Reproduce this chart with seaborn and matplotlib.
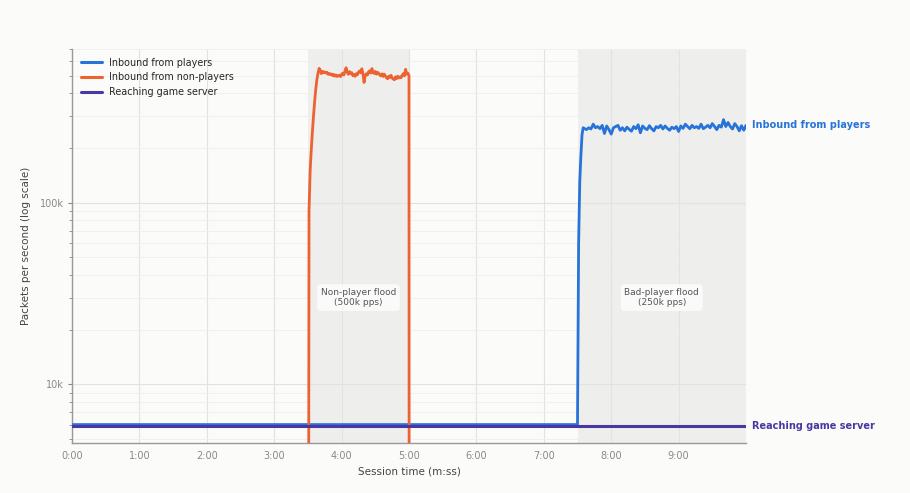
import numpy as np
import pandas as pd
import matplotlib
matplotlib.use("Agg")
import matplotlib.pyplot as plt
import matplotlib.transforms as mtransforms
from matplotlib.ticker import FuncFormatter, LogLocator, NullFormatter, FixedLocator
import seaborn as sns

# ---- data (packets per second, in thousands) ----
# inbound from players: steady baseline, then bad-player flood from 7:30
players_base_t = [0, 450]
players_base = [6.0, 6.0]
players_ramp_t = [451, 452, 453, 454, 455]
players_ramp = [60, 130, 180, 235, 258]
players_flood_start = 456   # sampled every 2 s up to 10:00
players_flood = [256, 252, 258, 254, 270, 258, 262, 255, 266, 240,
                 264, 252, 238, 258, 262, 266, 250, 258, 248, 260,
                 253, 247, 262, 255, 268, 242, 264, 256, 252, 265,
                 255, 248, 262, 258, 266, 254, 264, 256, 250, 260,
                 255, 262, 246, 264, 256, 270, 262, 255, 266, 258,
                 262, 256, 270, 255, 260, 266, 258, 272, 262, 252,
                 266, 260, 286, 262, 276, 262, 254, 272, 262, 248,
                 265, 250, 266]

# inbound from non-players: nothing, then flood between 3:30 and 5:00 (1 s samples)
nonplayers_start = 210
nonplayers = [0.001,
              90, 150, 195, 245, 300, 360, 420, 475, 515, 548,
              535, 512, 528, 518, 524, 516, 521, 508, 514, 505,
              510, 500, 507, 496, 503, 494, 499, 502, 493, 508,
              515, 503, 530, 552, 520, 508, 526, 512, 519, 499,
              506, 495, 512, 504, 522, 530, 518, 545, 512, 458,
              498, 511, 503, 524, 531, 516, 546, 520, 514, 527,
              509, 521, 515, 503, 498, 511, 494, 509, 497, 486,
              480, 496, 489, 502, 484, 478, 474, 492, 481, 496,
              485, 491, 487, 503, 512, 498, 541, 509, 515, 500,
              0.001]

# what actually reaches the game server
server_t = [0, 600]
server = [5.9, 5.9]

floods = [(210, 300, "Non-player flood\n(500k pps)"),
          (450, 600, "Bad-player flood\n(250k pps)")]

minute_ticks = [0, 60, 120, 180, 240, 300, 360, 420, 480, 540]

c_players = "#2673d9"
c_nonplayers = "#ec6231"
c_server = "#4b36a3"
bg = "#fbfbf9"

# ---- build series ----
players_t = np.concatenate([players_base_t, players_ramp_t,
                            players_flood_start + 2 * np.arange(len(players_flood))])
players_v = np.concatenate([players_base, players_ramp, players_flood]) * 1000
nonplayers_t = (nonplayers_start + np.arange(len(nonplayers))).astype(float)
nonplayers_t[-1] = 300.3
nonplayers_v = np.array(nonplayers) * 1000
server_v = np.array(server) * 1000

sns.set_theme(style="whitegrid")
plt.rcParams["font.family"] = ["DejaVu Sans"]

fig = plt.figure(figsize=(9.1, 4.93), dpi=100, facecolor=bg)
ax = fig.add_axes([72 / 910, 1 - 443 / 493, (746 - 72) / 910, (443 - 49) / 493])
ax.set_facecolor(bg)
ax.set_yscale("log")

for x0, x1, label in floods:
    ax.axvspan(x0, x1, color="#808080", alpha=0.1, lw=0, zorder=0)
    ax.text((x0 + x1) / 2, 30000, label, ha="center", va="center", fontsize=6.5,
            color="#555555", zorder=5,
            bbox=dict(boxstyle="round,pad=0.4", fc="white", ec="none", alpha=0.75))

sns.lineplot(x=players_t, y=players_v, ax=ax, color=c_players, lw=2.0,
             estimator=None, label="Inbound from players", zorder=3)
sns.lineplot(x=nonplayers_t, y=nonplayers_v, ax=ax, color=c_nonplayers, lw=2.0,
             estimator=None, label="Inbound from non-players", zorder=3)
sns.lineplot(x=server_t, y=server_v, ax=ax, color=c_server, lw=2.2,
             estimator=None, label="Reaching game server", zorder=4)

ax.set_xlim(0, 600)
ax.set_ylim(4750, 700000)

ax.xaxis.set_major_locator(FixedLocator(minute_ticks))
ax.xaxis.set_major_formatter(FuncFormatter(lambda v, p: f"{int(v // 60)}:{int(v % 60):02d}"))
ax.yaxis.set_major_locator(LogLocator(base=10))
ax.yaxis.set_minor_locator(LogLocator(base=10, subs=np.arange(2, 10)))
ax.yaxis.set_major_formatter(FuncFormatter(lambda v, p: f"{int(v / 1000)}k"))
ax.yaxis.set_minor_formatter(NullFormatter())

ax.grid(True, which="major", color="#e2e2e2", lw=0.8)
ax.grid(True, which="minor", axis="y", color="#efefef", lw=0.6)
ax.set_axisbelow(True)

for s in ["top", "right"]:
    ax.spines[s].set_visible(False)
for s in ["left", "bottom"]:
    ax.spines[s].set_color("#999999")
    ax.spines[s].set_linewidth(1.0)

ax.tick_params(axis="both", which="major", labelsize=7.0, colors="#888888",
               length=3, width=0.8, left=True, bottom=False, pad=3)
ax.tick_params(axis="y", which="minor", length=2, width=0.6, colors="#888888", left=True)

ax.set_xlabel("Session time (m:ss)", fontsize=7.5, color="#444444", labelpad=4)
ax.set_ylabel("Packets per second (log scale)", fontsize=7.5, color="#444444", labelpad=6)

leg = ax.legend(loc="upper left", frameon=False, fontsize=6.9, handlelength=2.2)
for line in leg.get_lines():
    line.set_linewidth(2.2)

trans = mtransforms.blended_transform_factory(ax.transAxes, ax.transData)
ax.text(1.009, players_v[-1], "Inbound from players", transform=trans, fontsize=7,
        fontweight="bold", color=c_players, va="center", ha="left")
ax.text(1.009, server_v[-1], "Reaching game server", transform=trans, fontsize=7,
        fontweight="bold", color=c_server, va="center", ha="left")

fig.savefig("out.png", dpi=100, facecolor=bg)
